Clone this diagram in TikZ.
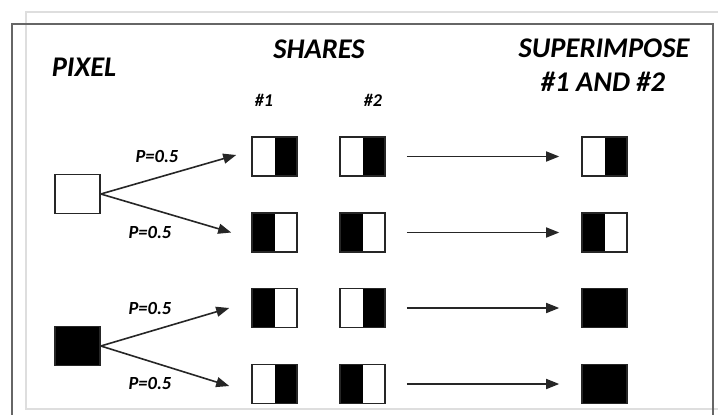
\documentclass[tikz,border=0pt]{standalone}
\usepackage{fontspec}
\setmainfont{Carlito}
\usetikzlibrary{arrows.meta}
\begin{document}
\begin{tikzpicture}[x=1pt,y=-1pt,
  box/.style={rectangle, draw=black!85, line width=1.6pt, minimum width=45pt, minimum height=39pt, inner sep=0pt},
  wb/.style={box, path picture={\fill[black] (path picture bounding box.north) rectangle (path picture bounding box.south east);}},
  bw/.style={box, path picture={\fill[black] (path picture bounding box.north west) rectangle (path picture bounding box.south);}},
  bb/.style={box, fill=black},
  ww/.style={box, fill=white},
  head/.style={font=\fontsize{28.5}{31}\selectfont\bfseries\itshape, inner sep=0pt},
  small/.style={font=\fontsize{18}{20}\selectfont\bfseries\itshape, inner sep=0pt},
  plab/.style={font=\fontsize{18.5}{20}\selectfont\bfseries\itshape, inner sep=0pt},
  arr/.style={draw=black!85, line width=1.6pt, -{Triangle[length=13pt,width=10pt]}},
  darkframe/.style={draw=black!60, line width=1.8pt},
  lightframe/.style={draw=black!13, line width=1.6pt}]
\useasboundingbox (0,0) rectangle (718,415);
\fill[white] (0,0) rectangle (718,415);
% frames
\draw[lightframe] (718,12) -- (26,12) -- (26,409) -- (718,409);
\draw[darkframe] (12,415) -- (12,24) -- (713,24) -- (713,415);
% headers
\node[head] (hpix) at (84,67) {PIXEL};
\node[head] (hsh) at (319,49) {SHARES};
\node[head] (hsup) at (604,48) {SUPERIMPOSE};
\node[head] (hsup2) at (603,82) {\#1 AND \#2};
\node[small] (h1) at (264,100) {\#1};
\node[small] (h2) at (373,100) {\#2};
% pixels
\node[ww] (pw) at (77.5,194) {};
\node[bb] (pb) at (77.5,346) {};
% share 1
\node[wb] (s1a) at (274.5,156.5) {};
\node[bw] (s1b) at (274.5,232.5) {};
\node[bw] (s1c) at (274.5,308) {};
\node[wb] (s1d) at (274.5,384) {};
% share 2
\node[wb] (s2a) at (362.5,156.5) {};
\node[bw] (s2b) at (362.5,232.5) {};
\node[wb] (s2c) at (362.5,308) {};
\node[bw] (s2d) at (362.5,384) {};
% superimposed
\node[wb] (sa) at (604.5,156.5) {};
\node[bw] (sb) at (604.5,232.5) {};
\node[bb] (sc) at (604.5,308) {};
\node[bb] (sd) at (604.5,384) {};
% pixel arrows
\draw[arr] (pw.east) -- ([xshift=-15pt,yshift=1.5pt]s1a.west);
\draw[arr] (pw.east) -- ([xshift=-20pt]s1b.west);
\draw[arr] (pb.east) -- ([xshift=-22pt]s1c.west);
\draw[arr] (pb.east) -- ([xshift=-22pt,yshift=-2pt]s1d.west);
% probability labels
\node[plab] (p1) at (157,157) {P=0.5};
\node[plab] (p2) at (150,232) {P=0.5};
\node[plab] (p3) at (150,308) {P=0.5};
\node[plab] (p4) at (150,383) {P=0.5};
% superimpose arrows
\draw[arr] ([xshift=21pt]s2a.east) -- ([xshift=-22pt]sa.west);
\draw[arr] ([xshift=21pt]s2b.east) -- ([xshift=-22pt]sb.west);
\draw[arr] ([xshift=21pt]s2c.east) -- ([xshift=-22pt]sc.west);
\draw[arr] ([xshift=21pt]s2d.east) -- ([xshift=-22pt]sd.west);
\end{tikzpicture}
\end{document}
